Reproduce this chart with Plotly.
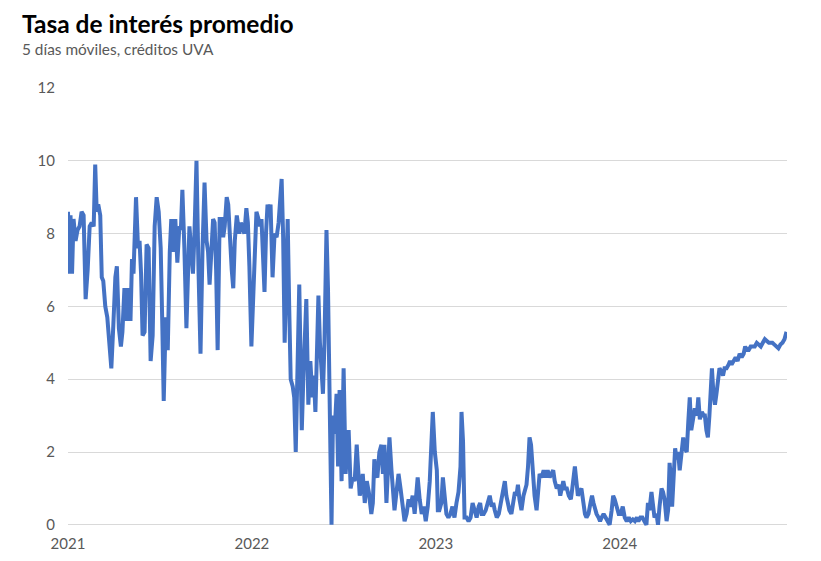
import pandas as pd
import plotly.graph_objects as go

# dias desde el 01/01/2021 y tasa promedio (5 dias moviles, creditos UVA)
dias = [
    0, 3, 5, 8, 11, 15, 19, 23, 27, 31, 35, 39, 43, 47, 51, 54, 57, 60, 64, 67,
    70, 74, 78, 82, 86, 90, 94, 97, 101, 105, 108, 112, 116, 120, 124, 127, 130, 135, 139, 142,
    145, 148, 152, 156, 160, 164, 168, 172, 176, 180, 184, 187, 190,
    194, 198, 202, 205, 209, 213, 217, 221, 224, 227, 231, 235, 241, 245, 248, 251, 255, 259,
    263, 267, 271, 275, 278, 281, 285, 288, 291, 294, 297, 301, 305, 308, 311, 315, 318, 321,
    325, 328, 331, 335, 337, 340, 343, 346, 350, 354, 357, 360, 364, 368, 371, 374, 378, 381,
    384, 387, 390, 393, 396, 399,
    402, 406, 410, 414, 418, 424, 427, 430, 433, 436, 439, 442, 446, 449, 452, 456, 459, 462,
    464, 467, 469, 473, 477, 481, 485, 488, 491, 494, 497, 500, 503, 506, 509, 513, 516, 518,
    521, 523, 526, 529, 533, 536, 539, 543, 547, 551, 554, 557, 561, 565, 569, 573, 576, 579,
    582, 585, 589, 593, 597, 600, 602, 605, 608, 611, 614, 618, 622, 625, 628, 632, 635, 638,
    642, 645, 648, 652, 656, 660, 664, 668, 672, 676, 680, 684, 688, 694, 698, 702, 706, 710,
    714, 718, 724, 728, 732, 734, 737, 741, 744, 747, 751, 755, 759, 763, 767, 771, 775, 779,
    781, 784, 787, 791, 795, 799, 803, 807, 811, 815, 818, 821, 825, 829, 833, 837, 841, 844,
    847, 851, 855, 859, 862, 865, 867, 870, 873, 876, 880, 884, 887, 890, 893, 896, 900, 904,
    907, 910, 913, 916, 919, 922, 926, 930, 933, 936, 940, 944, 948, 952, 956, 960, 963, 966,
    970, 974, 977, 980, 983, 986, 990, 994, 998, 1000, 1003, 1006, 1009, 1012, 1015, 1019, 1023, 1026,
    1029, 1033, 1037, 1040, 1043, 1046, 1049, 1053, 1056, 1059, 1063, 1067, 1071, 1075, 1079, 1082, 1085, 1089,
    1093, 1097, 1101, 1105, 1109, 1113, 1117, 1121, 1125, 1129, 1132, 1136, 1140, 1144, 1148, 1151, 1154, 1158,
    1161, 1164, 1168, 1171, 1174, 1178, 1181, 1184, 1188, 1191, 1194, 1197, 1199, 1202, 1205, 1208, 1211, 1214,
    1218, 1221, 1224, 1228, 1231, 1234, 1237, 1240, 1244, 1248, 1251, 1254, 1258, 1262, 1264, 1267, 1270, 1273,
    1276, 1278, 1281, 1284, 1287, 1290, 1293, 1297, 1300, 1303, 1307, 1311, 1314, 1317, 1321, 1325, 1329, 1333,
    1337, 1341, 1344, 1347, 1351, 1355, 1359, 1363, 1367, 1371, 1375, 1379, 1383, 1387, 1391, 1395, 1398, 1402,
    1406, 1410, 1414, 1418, 1422, 1426,
]
tasa = [
    8.6, 6.9, 8.5, 6.9, 8.4, 7.8, 8.1, 8.2, 8.6, 8.5, 6.2, 7.0, 8.2, 8.3, 8.2, 9.9, 8.6, 8.8, 8.5, 6.8,
    6.7, 6.0, 5.7, 4.8, 4.3, 5.5, 6.8, 7.1, 5.4, 4.9, 5.3, 6.5, 5.6, 6.5, 5.6, 7.3, 6.9, 9.0, 7.6, 7.8,
    6.9, 5.2, 5.3, 7.7, 7.6, 4.5, 5.2, 8.2, 9.0, 8.6, 7.6, 5.6, 3.4,
    5.7, 4.8, 7.5, 8.4, 7.5, 8.4, 7.2, 8.2, 8.1, 9.2, 7.6, 5.4, 8.2, 7.4, 6.9, 8.0, 10.0, 7.0,
    4.7, 7.6, 9.4, 7.8, 7.5, 6.6, 7.8, 8.4, 8.3, 7.0, 4.8, 8.4, 8.4, 7.9, 8.2, 9.0, 8.8, 7.8,
    7.0, 6.5, 7.8, 8.5, 8.2, 8.0, 8.3, 8.2, 8.0, 8.7, 8.3, 7.1, 4.9, 6.4, 8.0, 8.6, 8.4, 8.2,
    8.4, 7.2, 6.4, 8.0, 8.8, 8.5,
    8.8, 6.8, 8.0, 7.9, 8.3, 9.5, 7.9, 5.0, 6.8, 8.4, 6.0, 4.0, 3.8, 3.5, 2.0, 4.3, 6.6, 4.2,
    2.6, 4.0, 4.8, 6.2, 3.3, 4.5, 3.5, 4.1, 3.1, 4.5, 6.3, 5.0, 4.4, 3.6, 5.0, 8.1, 6.5, 5.0,
    2.8, 0.0, 3.0, 2.5, 3.6, 1.6, 3.7, 1.2, 4.3, 1.4, 2.0, 2.6, 1.0, 1.3, 1.2, 2.2, 1.5, 0.8,
    1.0, 1.4, 0.6, 1.2, 0.9, 0.5, 0.3, 0.6, 1.8, 1.4, 1.3, 2.0, 2.2, 1.4, 2.2, 0.6, 1.4, 2.4,
    1.5, 1.0, 0.4, 0.9, 1.4, 1.0, 0.5, 0.1, 0.3, 0.7, 0.5, 0.8, 0.3, 1.3, 0.7, 0.3, 0.5, 0.1,
    0.5, 1.2, 3.1, 2.0, 1.5, 0.4, 0.4, 0.6, 1.3, 0.8, 0.3, 0.2, 0.3, 0.5, 0.2, 0.6, 0.9, 1.6,
    3.1, 2.3, 0.2, 0.2, 0.1, 0.2, 0.6, 0.4, 0.2, 0.5, 0.6, 0.3, 0.3, 0.4, 0.6, 0.8, 0.5, 0.6,
    0.4, 0.2, 0.3, 0.6, 0.7, 1.0, 1.2, 0.8, 0.6, 0.4, 0.3, 0.6, 0.9, 0.8, 1.1, 0.7, 0.4, 0.8,
    1.0, 1.1, 1.6, 2.4, 2.2, 1.5, 0.8, 0.4, 1.0, 1.4, 1.3, 1.5, 1.3, 1.5, 1.3, 1.4, 1.5, 1.2,
    1.0, 1.1, 0.8, 1.0, 1.2, 1.0, 1.0, 0.8, 0.7, 0.9, 1.4, 1.6, 1.2, 0.8, 0.9, 1.0, 0.6, 0.3,
    0.2, 0.3, 0.6, 0.8, 0.6, 0.4, 0.3, 0.2, 0.1, 0.2, 0.3, 0.2, 0.1, 0.0, 0.4, 0.8, 0.7, 0.5,
    0.3, 0.3, 0.5, 0.2, 0.1, 0.2, 0.1, 0.15, 0.1, 0.2, 0.1, 0.2, 0.2, 0.1, 0.0, 0.6, 0.4, 0.9,
    0.6, 0.2, 0.3, 0.0, 0.5, 1.0, 0.9, 0.7, 0.1, 0.4, 1.7, 1.2, 0.5, 1.4, 2.1, 1.8, 2.0, 1.5,
    2.1, 2.4, 2.1, 2.0, 2.8, 3.5, 2.6, 2.9, 3.2, 3.0, 3.5, 2.9, 3.1, 3.0, 3.0, 2.6, 2.4, 3.0,
    3.8, 4.3, 3.6, 3.3, 3.6, 4.0, 4.3, 4.2, 4.1, 4.3, 4.3, 4.4, 4.5, 4.4, 4.5, 4.6, 4.5, 4.7,
    4.6, 4.7, 4.9, 4.8, 4.8, 4.9, 4.9, 4.9, 5.0, 4.95, 4.9, 5.0, 5.1, 5.05, 5.0, 5.0, 5.0, 4.95,
    4.9, 4.85, 4.95, 5.0, 5.1, 5.3,
]

inicio = pd.Timestamp("2021-01-01")
fechas = inicio + pd.to_timedelta(dias, unit="D")

fuente = "Lato, Open Sans, sans-serif"
gris = "#595959"

fig = go.Figure()
fig.add_trace(go.Scatter(
    x=fechas,
    y=tasa,
    mode="lines",
    line=dict(color="#4472C4", width=4),
    hoverinfo="x+y",
))

fig.update_xaxes(
    range=[inicio, inicio + pd.Timedelta(days=1427)],
    showgrid=False,
    zeroline=False,
    showline=False,
    tickformat="%Y",
    dtick="M12",
    tick0="2021-01-01",
    ticks="",
    ticklabelstandoff=6,
    automargin=False,
    tickfont=dict(family=fuente, size=15, color=gris),
)
fig.update_yaxes(
    range=[-0.06, 12],
    dtick=2,
    showgrid=True,
    gridcolor="#D9D9D9",
    gridwidth=1,
    zeroline=False,
    showline=False,
    ticks="",
    ticklabelstandoff=12,
    automargin=False,
    tickfont=dict(family=fuente, size=15, color=gris),
)

# titulo y subtitulo arriba a la izquierda
fig.add_annotation(
    text="<b>Tasa de interés promedio</b>",
    xref="paper", yref="paper", x=-0.066, y=1.182,
    xanchor="left", yanchor="top", showarrow=False, borderpad=0,
    font=dict(family=fuente, size=24.5, color="#000000"),
)
fig.add_annotation(
    text="5 días móviles, créditos UVA",
    xref="paper", yref="paper", x=-0.066, y=1.111,
    xanchor="left", yanchor="top", showarrow=False, borderpad=0,
    font=dict(family=fuente, size=15.4, color=gris),
)

# la pagina agrega 8px de margen, por eso la figura es algo mas chica
fig.update_layout(
    width=805,
    height=545,
    margin=dict(l=60, r=26, t=80, b=26),
    plot_bgcolor="white",
    paper_bgcolor="white",
    showlegend=False,
)

fig.write_html("out.html")
